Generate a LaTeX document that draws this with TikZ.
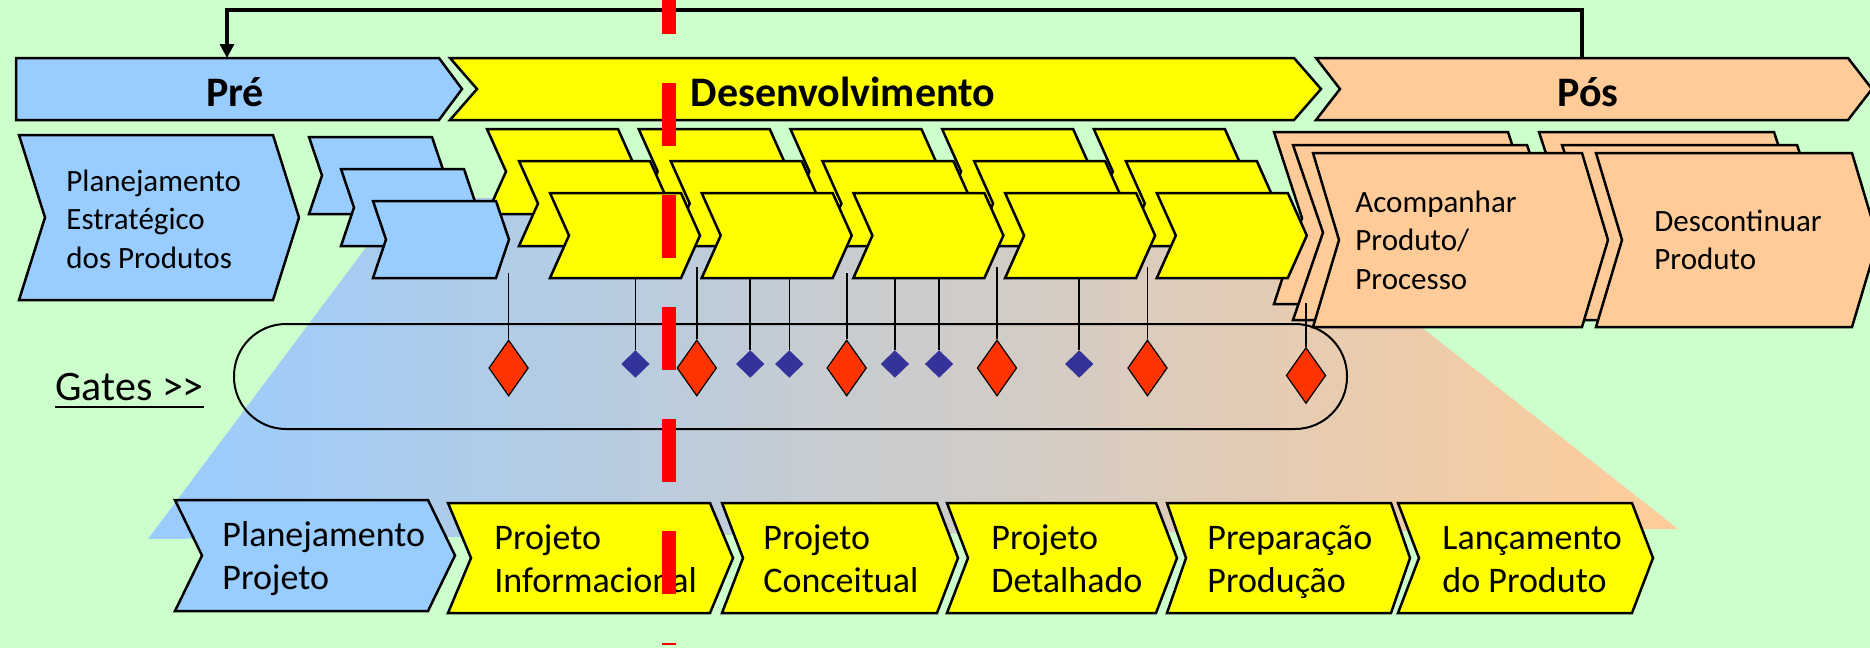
\documentclass[tikz,border=0pt]{standalone}
\usepackage{fontspec}
\setmainfont{Carlito}
\usetikzlibrary{arrows.meta,shapes.geometric}
\definecolor{bgc}{HTML}{CCFFCC}
\definecolor{bluec}{HTML}{99CCFF}
\definecolor{yelc}{HTML}{FFFF00}
\definecolor{peachc}{HTML}{FFCC99}
\definecolor{redd}{HTML}{FF3300}
\definecolor{blued}{HTML}{333399}
\definecolor{redline}{HTML}{FF0000}
\newcommand\chevpath[6]{%
  \draw[#1] (#2,#3) -- ++(#4,0) -- ++(#6,#5/2) -- ++(-#6,#5/2) -- ++(-#4,0) -- ++(#6,-#5/2) -- cycle;}
\newcommand\rowtwofont{\fontsize{15.5}{19.25}\selectfont}
\newcommand\botfont{\fontsize{18}{21.5}\selectfont}
\newcommand\topfont{\fontsize{21}{25}\selectfont\bfseries}
\tikzset{
  chev/.style={draw=black, line width=1.25pt, line join=miter},
  bluechev/.style={chev, fill=bluec},
  yelchev/.style={chev, fill=yelc},
  peachchev/.style={chev, fill=peachc},
  stem/.style={draw=black, line width=0.8pt},
  reddia/.style={diamond, draw=black, line width=0.6pt, fill=redd, inner sep=0pt, minimum width=19.8pt, minimum height=28pt},
  bluedia/.style={diamond, fill=blued, inner sep=0pt, minimum width=14.3pt, minimum height=13.9pt},
  lbl/.style={inner sep=0pt, anchor=base west, text=black},
  toptxt/.style={inner sep=0pt, anchor=base, text=black, font=\topfont},
  feedback/.style={draw=black, line width=1.6pt, line join=miter, -{Triangle[width=7pt,length=7pt]}},
  gatesbox/.style={draw=black, line width=1pt, rounded corners=26pt},
  reddash/.style={draw=redline, line width=7pt, dash pattern=on 31.5pt off 24.5pt}
}
\begin{document}
\begin{tikzpicture}[x=0.5pt,y=-0.5pt]
\useasboundingbox (0,0) rectangle (1870,648);
\fill[bgc] (0,0) rectangle (1870,648);
% gradient trapezoid
\shade[left color=bluec, right color=peachc] (403,198) -- (1257,198) -- (1678,529) -- (148,539) -- cycle;
% feedback arrow
\coordinate (preTop) at (227,58);
\coordinate (posTop) at (1582,58);
\draw[feedback] (posTop) -- ++(0,-48) -| (preTop);
% top bars
\draw[bluechev] (16,58) -- (439,58) -- (462,89) -- (439,120) -- (16,120) -- cycle;
\chevpath{yelchev}{450}{58}{844}{62}{27}
\chevpath{peachchev}{1316}{58}{532}{62}{24}
% planejamento estrategico
\chevpath{bluechev}{19}{135}{254}{165}{26}
% pos chevrons
\chevpath{peachchev}{1274}{132}{234}{172}{28}
\chevpath{peachchev}{1539}{132}{235}{172}{28}
\chevpath{peachchev}{1293}{145}{234}{175}{30}
\chevpath{peachchev}{1562}{145}{235}{175}{30}
\chevpath{peachchev}{1313}{153}{269}{174}{26}
\chevpath{peachchev}{1596}{153}{256}{174}{26}
% yellow chevrons
\foreach \k in {0,...,4}{\chevpath{yelchev}{487+151.7*\k}{129}{131}{85}{19}}
\foreach \k in {0,...,4}{\chevpath{yelchev}{519+151.7*\k}{161}{131}{85}{19}}
\foreach \k in {0,...,4}{\chevpath{yelchev}{550+151.7*\k}{193}{131}{85}{19}}
% small blue chevrons
\chevpath{bluechev}{309}{137}{123}{77}{13}
\chevpath{bluechev}{341}{169}{123}{77}{13}
\chevpath{bluechev}{373}{201}{123}{77}{13}
% gates box
\draw[gatesbox] (234,324) rectangle (1347,429);
% diamonds
\node[reddia] (r1) at (508.6,368) {};
\node[reddia] (r2) at (696.8,368) {};
\node[reddia] (r3) at (846.7,368) {};
\node[reddia] (r4) at (997,368) {};
\node[reddia] (r5) at (1147.5,368) {};
\node[reddia] (r6) at (1306,375.5) {};
\node[bluedia] (b1) at (635.4,364) {};
\node[bluedia] (b2) at (750.2,364) {};
\node[bluedia] (b3) at (789.3,364) {};
\node[bluedia] (b4) at (894.9,364) {};
\node[bluedia] (b5) at (939.1,364) {};
\node[bluedia] (b6) at (1079.2,364) {};
\draw[stem] (r1.north) -- (508.6,273);
\draw[stem] (r2.north) -- (696.8,267);
\draw[stem] (r3.north) -- (846.7,273);
\draw[stem] (r4.north) -- (997,267);
\draw[stem] (r5.north) -- (1147.5,267);
\draw[stem] (r6.north) -- (1306,303);
\foreach \b/\x in {b1/635.4,b2/750.2,b3/789.3,b4/894.9,b5/939.1,b6/1079.2}{\draw[stem] (\b.north) -- (\x,279);}
% bottom row
\chevpath{bluechev}{175}{500}{253}{111}{27}
\chevpath{yelchev}{448}{503}{262}{110}{23}
\chevpath{yelchev}{722}{503}{215}{110}{21}
\chevpath{yelchev}{947}{503}{209}{110}{21}
\chevpath{yelchev}{1167}{503}{224}{110}{19}
\chevpath{yelchev}{1398}{503}{234}{110}{21}
% texts
\node[toptxt] (tPre) at (235,106) {Pré};
\node[toptxt] (tDes) at (843,106) {Desenvolvimento};
\node[toptxt] (tPos) at (1588,106) {Pós};
\node[lbl, font=\rowtwofont] (tPE) at (66,191) {\begin{tabular}[t]{@{}l@{}}Planejamento\\Estratégico\\dos Produtos\end{tabular}};
\node[lbl, font=\rowtwofont] (tAc) at (1355,212) {\begin{tabular}[t]{@{}l@{}}Acompanhar\\Produto/\\Processo\end{tabular}};
\node[lbl, font=\rowtwofont] (tDc) at (1654,231) {\begin{tabular}[t]{@{}l@{}}Descontinuar\\Produto\end{tabular}};
\node[lbl, font=\fontsize{21}{25}\selectfont] (tGates) at (55,400) {Gates >{}>};
\draw[line width=0.9pt] ([yshift=-3.5pt]tGates.base west) -- ([yshift=-3.5pt]tGates.base east);
\node[lbl, font=\botfont] (tPP) at (222,546) {\begin{tabular}[t]{@{}l@{}}Planejamento\\Projeto\end{tabular}};
\node[lbl, font=\botfont] (tPI) at (494,549) {\begin{tabular}[t]{@{}l@{}}Projeto\\Informacional\end{tabular}};
\node[lbl, font=\botfont] (tPC) at (763,549) {\begin{tabular}[t]{@{}l@{}}Projeto\\Conceitual\end{tabular}};
\node[lbl, font=\botfont] (tPD) at (991,549) {\begin{tabular}[t]{@{}l@{}}Projeto\\Detalhado\end{tabular}};
\node[lbl, font=\botfont] (tPr) at (1207,549) {\begin{tabular}[t]{@{}l@{}}Preparação\\Produção\end{tabular}};
\node[lbl, font=\botfont] (tLa) at (1442,549) {\begin{tabular}[t]{@{}l@{}}Lançamento\\do Produto\end{tabular}};
% red dashed line
\draw[reddash] (669,-29) -- (669,645);
\end{tikzpicture}
\end{document}
